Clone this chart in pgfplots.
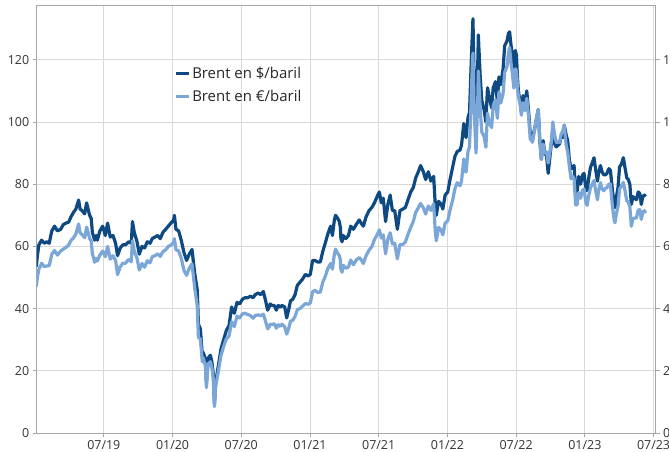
\documentclass[border=0pt]{standalone}
\usepackage{fontspec}
\setmainfont{Open Sans}
\usepackage{pgfplots}
\usepackage{pgfplotstable}
\pgfplotsset{compat=1.18}
\definecolor{darkb}{RGB}{14,73,130}
\definecolor{lightb}{RGB}{122,166,216}
\definecolor{axgray}{RGB}{165,165,165}
\definecolor{gridgray}{RGB}{217,217,217}
\definecolor{txt}{RGB}{50,50,50}

\pgfplotstableread{
x usd eur
0.10 53.5 47.1
0.20 57.0 50.0
0.33 60.5 52.7
0.57 62.0 54.6
0.80 61.0 53.5
1.00 61.5 53.7
1.23 61.0 53.8
1.46 65.0 57.5
1.70 66.5 58.7
1.95 65.0 57.2
2.23 65.5 58.5
2.46 67.0 59.1
2.70 67.5 59.7
2.93 67.8 60.4
3.13 69.5 61.9
3.36 71.0 62.8
3.56 72.0 64.0
3.80 74.9 67.2
3.93 72.0 64.4
4.10 71.5 63.8
4.33 70.5 62.8
4.50 74.0 66.2
4.63 72.0 64.5
4.76 70.0 62.5
4.90 69.0 61.7
5.00 64.5 57.7
5.20 62.0 54.9
5.33 63.5 56.2
5.43 62.0 55.3
5.66 65.0 57.2
5.90 66.5 58.5
6.13 63.5 56.7
6.33 67.5 60.0
6.56 63.0 55.9
6.80 63.5 57.0
7.03 61.0 55.5
7.20 57.0 50.9
7.43 59.5 53.4
7.66 60.5 54.6
7.90 60.5 54.6
8.16 61.5 55.8
8.40 61.0 55.1
8.50 68.0 61.8
8.66 64.5 58.5
8.90 61.5 56.2
9.10 57.5 52.4
9.33 60.0 54.5
9.56 59.5 53.3
9.80 61.5 55.4
10.03 61.0 54.7
10.23 62.5 56.7
10.46 63.0 57.0
10.70 63.5 57.6
10.93 62.5 56.8
11.16 64.5 58.3
11.40 65.5 58.9
11.63 66.5 60.0
11.86 67.5 60.4
12.10 68.5 61.4
12.16 70.0 62.5
12.30 65.5 58.9
12.53 65.0 58.6
12.76 62.0 56.2
13.00 58.0 52.3
13.23 55.5 50.7
13.46 57.5 53.0
13.70 59.0 54.4
13.93 51.5 46.8
14.16 46.0 40.8
14.26 35.0 30.7
14.43 33.5 30.2
14.60 25.0 22.9
14.66 26.0 24.3
14.86 24.0 21.8
14.96 16.0 14.6
15.10 24.0 22.2
15.30 25.0 22.9
15.43 23.0 21.1
15.56 19.0 17.5
15.66 9.2 8.5
15.76 16.0 14.8
15.93 20.0 18.4
16.10 24.0 22.0
16.23 27.0 24.9
16.46 30.0 27.8
16.70 33.0 30.3
16.93 34.5 31.1
17.16 40.5 35.8
17.40 38.5 34.2
17.63 42.0 37.6
17.86 41.5 37.0
18.10 43.0 38.3
18.33 43.5 38.5
18.56 43.5 38.1
18.80 44.0 37.8
19.03 43.5 36.9
19.23 44.5 37.8
19.46 45.0 38.0
19.70 44.5 37.7
19.93 45.5 38.2
20.13 42.5 35.9
20.30 39.5 33.5
20.43 40.5 34.1
20.53 41.5 35.0
20.66 41.0 34.9
20.90 41.0 35.1
21.06 39.5 33.7
21.23 41.0 34.8
21.40 40.5 34.3
21.56 41.0 35.0
21.80 40.5 34.1
21.97 37.0 31.8
22.16 40.0 33.9
22.30 42.5 35.9
22.50 43.0 36.3
22.70 44.5 37.5
22.90 47.5 39.7
23.13 48.5 40.0
23.36 49.5 40.8
23.60 51.0 41.6
23.83 50.5 41.4
24.03 51.0 41.8
24.23 55.5 45.4
24.43 55.5 45.9
24.66 55.0 45.2
24.90 55.0 45.3
25.13 58.5 48.6
25.33 61.0 50.3
25.56 64.0 52.9
25.80 66.5 54.5
25.96 63.5 52.7
26.13 68.5 57.5
26.23 70.0 59.1
26.43 69.0 57.7
26.56 68.0 57.1
26.66 66.0 55.5
26.70 62.5 52.5
26.80 61.5 51.7
26.90 63.5 53.9
27.13 62.5 53.0
27.36 63.5 53.4
27.56 66.5 55.6
27.80 65.5 54.1
28.03 67.0 55.6
28.30 68.5 56.4
28.46 67.5 55.8
28.66 66.5 54.5
28.90 69.5 57.0
29.16 71.5 58.8
29.40 72.5 59.9
29.63 74.0 62.2
29.86 76.0 63.7
30.06 77.5 65.3
30.23 74.0 62.7
30.40 75.5 63.7
30.60 68.0 57.6
30.80 73.5 62.3
31.00 76.5 64.4
31.20 71.5 60.8
31.40 71.5 61.0
31.63 65.5 56.0
31.86 71.5 60.6
32.10 72.0 60.6
32.33 72.5 61.4
32.56 75.0 63.9
32.80 77.5 66.1
33.03 79.0 68.1
33.23 82.0 70.9
33.46 84.0 72.4
33.66 86.0 73.8
33.90 84.0 72.4
34.10 81.5 70.4
34.33 84.0 73.0
34.56 81.0 71.6
34.80 82.5 73.7
34.93 74.0 65.5
35.03 70.0 61.8
35.23 74.5 66.1
35.46 73.5 65.2
35.60 72.0 63.7
35.80 76.5 67.5
36.03 77.5 68.2
36.23 81.5 71.7
36.46 85.5 74.9
36.66 89.0 78.6
36.86 90.5 80.5
37.10 91.0 79.5
37.23 92.5 80.9
37.43 99.5 88.1
37.53 96.0 84.5
37.63 95.0 83.9
37.80 101.5 90.6
37.93 103.0 92.0
38.06 117.0 105.4
38.13 124.0 113.4
38.23 133.2 122.2
38.33 115.0 104.6
38.50 99.0 90.0
38.66 120.0 108.6
38.70 128.0 116.4
38.86 115.0 104.5
39.00 107.0 96.8
39.20 104.0 95.4
39.36 100.0 91.9
39.50 111.0 102.8
39.66 108.0 99.7
39.86 104.5 98.2
40.00 111.0 105.3
40.20 113.0 107.1
40.36 106.5 101.2
40.50 114.5 109.7
40.66 112.0 106.1
40.86 117.0 109.1
41.00 124.5 116.0
41.20 126.0 117.8
41.33 128.5 122.1
41.43 129.0 124.0
41.56 124.5 118.7
41.66 122.0 116.1
41.80 117.0 110.9
41.93 123.0 117.1
42.03 121.5 116.5
42.13 113.5 110.5
42.20 110.0 108.2
42.36 106.0 105.6
42.46 103.0 102.2
42.60 108.5 106.2
42.76 106.0 103.7
42.93 110.0 107.6
43.10 103.0 101.4
43.23 96.5 94.6
43.43 95.0 93.5
43.60 97.5 97.1
43.80 101.5 101.8
43.93 104.0 104.0
44.06 94.5 95.0
44.20 88.0 88.0
44.36 94.0 92.9
44.50 90.0 90.0
44.66 89.0 90.4
44.80 83.5 86.8
44.93 88.0 89.8
45.10 94.0 94.2
45.20 97.5 100.0
45.36 93.0 95.9
45.50 92.0 93.5
45.66 92.5 93.8
45.80 93.0 93.4
45.93 95.5 96.0
46.10 95.0 97.4
46.20 99.0 99.0
46.36 96.0 92.8
46.50 94.0 90.4
46.66 87.5 85.4
46.80 85.0 81.7
46.93 85.5 82.6
47.06 86.0 81.7
47.20 77.0 73.3
47.33 77.5 73.5
47.46 82.5 77.3
47.63 80.0 75.5
47.80 83.0 78.1
47.93 83.5 78.5
48.10 78.0 73.9
48.20 78.0 73.2
48.36 82.5 76.7
48.50 85.5 78.9
48.66 87.0 80.2
48.80 88.5 81.2
48.93 85.0 78.3
49.10 81.0 75.0
49.20 83.5 77.8
49.36 86.0 80.5
49.50 84.0 78.5
49.66 83.0 77.9
49.80 83.0 78.7
49.93 83.5 78.9
50.10 85.0 80.0
50.23 84.5 80.1
50.40 78.5 73.2
50.56 73.0 68.5
50.63 72.5 67.6
50.76 76.0 70.6
50.90 79.0 72.9
51.03 85.5 78.4
51.20 86.5 79.4
51.36 88.5 80.6
51.50 85.5 78.1
51.66 82.0 74.7
51.80 81.5 74.2
51.93 80.0 72.7
52.06 73.5 66.5
52.20 76.0 69.0
52.36 75.5 69.1
52.50 75.0 69.1
52.66 77.5 71.7
52.80 77.0 71.8
52.93 73.5 68.7
53.06 76.0 71.0
53.20 76.5 71.5
53.30 76.0 70.7
}\brent

\begin{document}
\begin{tikzpicture}
\pgfplotsset{
  common/.style={
    scale only axis, width=618.8bp, height=427bp,
    at={(0,0)}, anchor=south west,
    xmin=0.14, xmax=54.17, ymin=0, ymax=137.3,
    ytick={0,20,...,120},
    tick align=outside, major tick length=4bp,
    tick style={axgray, line width=0.8bp},
    axis line style={axgray, line width=1bp},
    ticklabel style={font=\fontsize{12.5}{14}\selectfont, text=txt},
    /pgf/number format/assume math mode=true,
  }
}
\begin{axis}[common,
  xtick={6,12,...,54},
  xticklabels={07/19,01/20,07/20,01/21,07/21,01/22,07/22,01/23,07/23},
  xtick pos=bottom, ytick pos=left,
  grid=major, grid style={gridgray, line width=0.8bp},
  legend cell align=left,
  legend style={draw=none, fill=none, at={(0.222,0.862)}, anchor=north west,
    font=\fontsize{15}{17}\selectfont, text=black!85, inner sep=0pt,
    row sep=6bp},
  legend image code/.code={\draw[#1, line width=3bp] (0bp,0bp) -- (13bp,0bp);},
]
\addplot[darkb, line width=3.2bp, line join=round] table[x=x,y=usd]{\brent};
\addlegendentry{Brent en \$/baril}
\addplot[lightb, line width=3.2bp, line join=round] table[x=x,y=eur]{\brent};
\addlegendentry{Brent en €/baril}
\end{axis}
\begin{axis}[common, hide x axis, axis y line*=right, ytick pos=right]
\end{axis}
\pgfresetboundingbox
\path[use as bounding box] (-36.7bp,-19bp) rectangle (632.3bp,433bp);
\end{tikzpicture}
\end{document}
